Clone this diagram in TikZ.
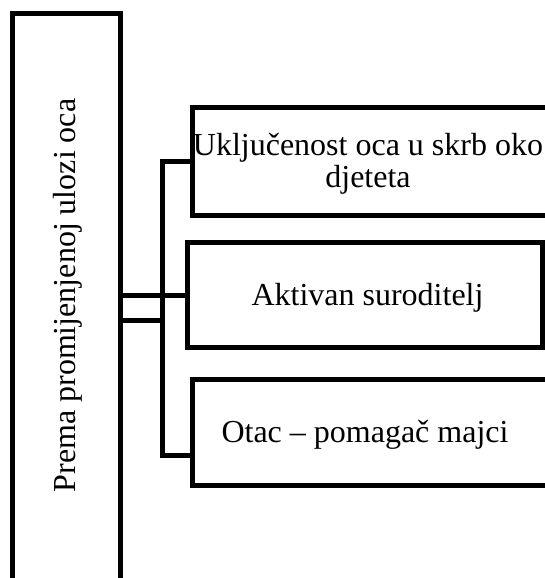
\documentclass[tikz,border=0pt]{standalone}
\usepackage{fontspec}
\setmainfont{Liberation Serif}
\begin{document}
\begin{tikzpicture}[x=1pt,y=-1pt,
  box/.style={draw=black, line width=5pt, rectangle, inner sep=0pt, outer sep=0pt, anchor=north west},
  conn/.style={draw=black, line width=5pt},
  txt/.style={font=\fontsize{32}{32}\selectfont, inner sep=0pt, outer sep=0pt, align=center}]
\useasboundingbox (0,0) rectangle (545,578);
\clip (0,0) rectangle (545,578);
% boxes
\node[box, minimum width=108.3pt, minimum height=620pt] (lb) at (12.5,14) {};
\node[box, minimum width=370pt, minimum height=108pt] (b1) at (192.5,107.5) {};
\node[box, minimum width=355pt, minimum height=105pt] (b2) at (187.5,242.5) {};
\node[box, minimum width=370pt, minimum height=106pt] (b3) at (192.5,379.5) {};
% texts
\node[txt, rotate=90, anchor=base] (tl) at (75,295.5) {Prema promijenjenoj ulozi oca};
\node[txt, anchor=center] (t1) at (368,163.5) {Uključenost oca u skrb oko\\djeteta};
\node[txt, anchor=base] (t2) at (367.5,305) {Aktivan suroditelj};
\node[txt, anchor=base] (t3) at (365,442) {Otac – pomagač majci};
% connector coordinates
\coordinate (bt) at (162.5,161.5);
\coordinate (bm) at (162.5,320);
\coordinate (bb) at (162.5,455.5);
% connectors
\draw[conn] (lb.east |- b2.west) -- (b2.west);
\draw[conn] (lb.east |- bm) -- (bm);
\draw[conn] (b1.west |- bt) -- (bt) -- (bb) -- (b3.west |- bb);
\end{tikzpicture}
\end{document}
